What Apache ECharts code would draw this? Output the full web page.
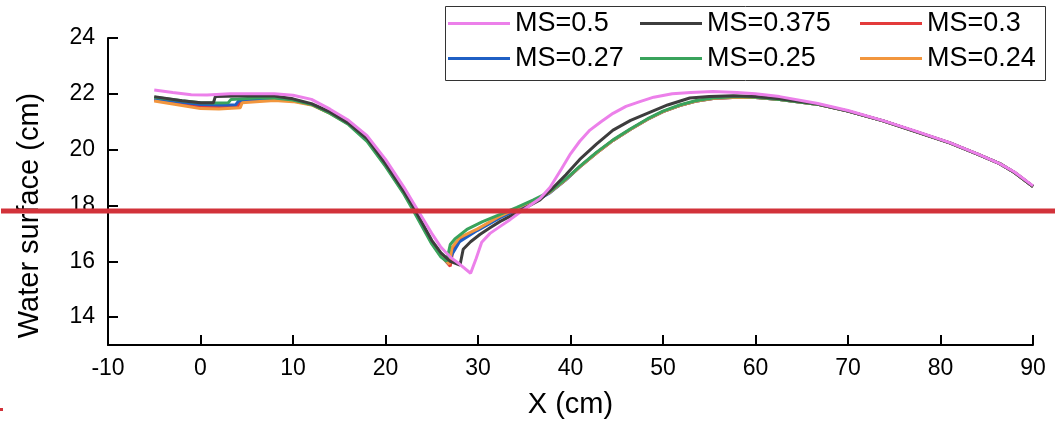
<!DOCTYPE html>
<html>
<head>
<meta charset="utf-8">
<script src="https://cdn.jsdelivr.net/npm/echarts@6/dist/echarts.min.js"></script>
<style>html,body{margin:0;padding:0;background:#fff}#c{width:1055px;height:424px}</style>
</head>
<body>
<div id="c"></div>
<script>
// ---- data ----
const seriesNames = ['MS=0.5', 'MS=0.375', 'MS=0.3', 'MS=0.27', 'MS=0.25', 'MS=0.24'];
const xTicks = [-10, 0, 10, 20, 30, 40, 50, 60, 70, 80, 90];
const yTicks = [14, 16, 18, 20, 22, 24];
const redLineY = 17.8;

const ms050 = [[-5,22.14],[-3,22.05],[-1,21.97],[0.7,21.96],[3.2,22.0],[6,22.0],[8,22.0],[10,21.95],[12,21.8],[14,21.45],[16,21.05],[18,20.5],[20,19.65],[22,18.65],[23,18.1],[24,17.55],[25,17.0],[26,16.5],[27,16.15],[28,15.9],[29.2,15.57],[29.8,16.1],[30.4,16.68],[31.3,17.0],[32.4,17.25],[33.5,17.5],[34.5,17.75],[35.6,18.0],[36.7,18.25],[37.8,18.65],[39,19.3],[40,19.85],[41,20.3],[42.1,20.7],[43.3,21.0],[44.6,21.3],[46,21.55],[47.5,21.72],[49,21.88],[51,22.0],[53,22.05],[55.4,22.08],[58,22.05],[60,22.0],[62.6,21.9],[66.6,21.66],[70,21.4],[73.8,21.04],[77,20.7],[81,20.25],[84,19.85],[86.4,19.5],[88,19.2],[90,18.7]];
const ms0375 = [[-5,21.9],[-2,21.75],[0,21.68],[1.4,21.68],[1.6,21.9],[4,21.92],[6,21.93],[8,21.92],[10,21.82],[12,21.65],[14,21.35],[16,20.95],[18,20.4],[20,19.5],[22,18.5],[23,17.95],[24,17.35],[25,16.75],[26,16.3],[27,16.0],[28.05,15.86],[28.4,16.43],[29.2,16.7],[30.2,16.96],[31.3,17.2],[32.4,17.43],[33.5,17.62],[34.5,17.8],[35.6,18.0],[36.7,18.2],[38,18.6],[39.5,19.1],[41,19.65],[42.8,20.2],[44.6,20.7],[46.5,21.05],[48.3,21.3],[50.5,21.6],[52.9,21.85],[55,21.9],[57.6,21.93],[60,21.9],[62.6,21.82],[66.6,21.64],[70,21.38],[73.8,21.03],[77,20.68],[81,20.24],[84,19.84],[86.4,19.5],[88,19.18],[90,18.68]];
const ms030 = [[-5,21.78],[-2,21.65],[0,21.55],[2,21.52],[4,21.55],[4.3,21.7],[6,21.76],[8,21.8],[10,21.75],[12,21.62],[14,21.32],[16,20.93],[18,20.35],[20,19.45],[22,18.45],[23,17.9],[24,17.3],[25,16.7],[26,16.2],[27,15.82],[27.3,16.43],[28.2,16.8],[29.9,17.12],[32.4,17.6],[34.2,17.88],[36,18.15],[37.8,18.48],[39.5,18.93],[41,19.38],[42.8,19.88],[44.6,20.33],[46.5,20.73],[48.3,21.08],[50,21.36],[51.8,21.58],[53.5,21.73],[55.4,21.83],[58,21.88],[60,21.87],[62.6,21.8],[66.6,21.63],[70,21.38],[73.8,21.03],[77,20.68],[81,20.24],[84,19.84],[86.4,19.5],[88,19.18],[90,18.68]];
const ms027 = [[-5,21.82],[-2,21.7],[0,21.62],[2,21.6],[3.8,21.6],[4.1,21.74],[6,21.8],[8,21.82],[10,21.76],[12,21.62],[14,21.32],[16,20.93],[18,20.35],[20,19.45],[22,18.45],[23,17.9],[24,17.3],[25,16.7],[26,16.22],[26.8,15.92],[27.2,16.25],[28,16.7],[29.9,17.1],[32.4,17.56],[34.2,17.84],[36,18.12],[37.8,18.46],[39.5,18.92],[41,19.38],[42.8,19.88],[44.6,20.33],[46.5,20.73],[48.3,21.08],[50,21.36],[51.8,21.58],[53.5,21.73],[55.4,21.83],[58,21.88],[60,21.87],[62.6,21.8],[66.6,21.63],[70,21.38],[73.8,21.03],[77,20.68],[81,20.24],[84,19.84],[86.4,19.5],[88,19.18],[90,18.68]];
const ms025 = [[-5,21.88],[-2,21.75],[0,21.68],[1.5,21.67],[3,21.68],[3.3,21.8],[6,21.85],[8,21.85],[10,21.78],[12,21.62],[14,21.3],[16,20.9],[18,20.3],[20,19.4],[22,18.4],[23,17.82],[24,17.22],[25,16.62],[26,16.15],[26.6,16.0],[27,16.6],[27.5,16.8],[28.8,17.14],[30.5,17.42],[32.4,17.68],[34.2,17.93],[36,18.2],[37.8,18.5],[39.5,18.95],[41,19.4],[42.8,19.9],[44.6,20.35],[46.5,20.75],[48.3,21.1],[50,21.38],[51.8,21.6],[53.5,21.75],[55.4,21.85],[58,21.9],[60,21.88],[62.6,21.8],[66.6,21.63],[70,21.38],[73.8,21.03],[77,20.68],[81,20.24],[84,19.84],[86.4,19.5],[88,19.18],[90,18.68]];
const ms024 = [[-5,21.74],[-2,21.58],[0,21.47],[2,21.46],[4.3,21.5],[4.5,21.68],[6,21.72],[8,21.76],[10,21.72],[12,21.6],[14,21.3],[16,20.92],[18,20.33],[20,19.43],[22,18.43],[23,17.86],[24,17.26],[25,16.66],[26,16.18],[26.9,15.9],[27.2,16.5],[28,16.85],[29.9,17.15],[32.4,17.62],[34.2,17.9],[36,18.17],[37.8,18.48],[39.5,18.93],[41,19.38],[42.8,19.88],[44.6,20.33],[46.5,20.73],[48.3,21.08],[50,21.36],[51.8,21.58],[53.5,21.73],[55.4,21.83],[58,21.88],[60,21.87],[62.6,21.8],[66.6,21.63],[70,21.38],[73.8,21.03],[77,20.68],[81,20.24],[84,19.84],[86.4,19.5],[88,19.18],[90,18.68]];

const seriesData = [ms050, ms0375, ms030, ms027, ms025, ms024];
const colors = ['#ec80ea', '#3d3d3d', '#e33b3b', '#1f5fc4', '#39a35c', '#f2963d'];
const zOrder = [8, 7, 3, 4, 6, 5];

// ---- chart ----
const FONT = 'Liberation Sans, Arial, sans-serif';
const chart = echarts.init(document.getElementById('c'), null, {renderer: 'canvas'});

const series = seriesNames.map((n, i) => ({
  name: n, type: 'line', data: seriesData[i], showSymbol: false, symbol: 'none',
  z: zOrder[i], smooth: false,
  lineStyle: {color: colors[i], width: 3}, itemStyle: {color: colors[i]}
}));

const legendCommon = {
  orient: 'vertical', icon: 'rect', itemWidth: 62, itemHeight: 3, itemGap: 8, padding: 0,
  textStyle: {fontFamily: FONT, fontSize: 27, color: '#000'}, selectedMode: false
};

chart.setOption({
  animation: false,
  backgroundColor: '#fff',
  grid: {left: 108, right: 22, top: 38, bottom: 78},
  legend: [
    Object.assign({left: 448, top: 10, data: [seriesNames[0], seriesNames[3]]}, legendCommon),
    Object.assign({left: 640, top: 10, data: [seriesNames[1], seriesNames[4]]}, legendCommon),
    Object.assign({left: 860, top: 10, data: [seriesNames[2], seriesNames[5]]}, legendCommon)
  ],
  xAxis: {
    type: 'value', min: xTicks[0], max: xTicks[xTicks.length - 1], interval: 10,
    name: 'X (cm)', nameLocation: 'middle', nameGap: 45,
    nameTextStyle: {fontFamily: FONT, fontSize: 29, color: '#000'},
    axisLine: {show: true, onZero: false, lineStyle: {color: '#000', width: 2}},
    axisTick: {show: true, inside: true, length: 10, lineStyle: {color: '#000', width: 2}},
    axisLabel: {fontFamily: FONT, fontSize: 23, color: '#000', margin: 12},
    splitLine: {show: false}
  },
  yAxis: {
    type: 'value', min: 13, max: 24,
    name: 'Water surface (cm)', nameLocation: 'middle', nameGap: 64,
    nameTextStyle: {fontFamily: FONT, fontSize: 29, color: '#000', padding: [0, 48, 0, 0]},
    axisLine: {show: true, onZero: false, lineStyle: {color: '#000', width: 2}},
    axisTick: {show: true, inside: true, length: 10, customValues: yTicks, lineStyle: {color: '#000', width: 2}},
    axisLabel: {fontFamily: FONT, fontSize: 23, color: '#000', margin: 13, customValues: yTicks},
    splitLine: {show: false}
  },
  series: series
});

const yPix = chart.convertToPixel({yAxisIndex: 0}, redLineY);
chart.setOption({
  graphic: [
    {type: 'rect', left: 443, top: 4, shape: {width: 600, height: 74}, style: {fill: 'none', stroke: '#333', lineWidth: 1}, z: 1},
    {type: 'line', shape: {x1: 1, y1: yPix, x2: 1055, y2: yPix}, style: {stroke: '#d2323a', lineWidth: 5}, z: 100},
    {type: 'rect', left: 0, top: 408, shape: {width: 3, height: 3}, style: {fill: '#d2323a'}, z: 100}
  ]
});
</script>
</body>
</html>
